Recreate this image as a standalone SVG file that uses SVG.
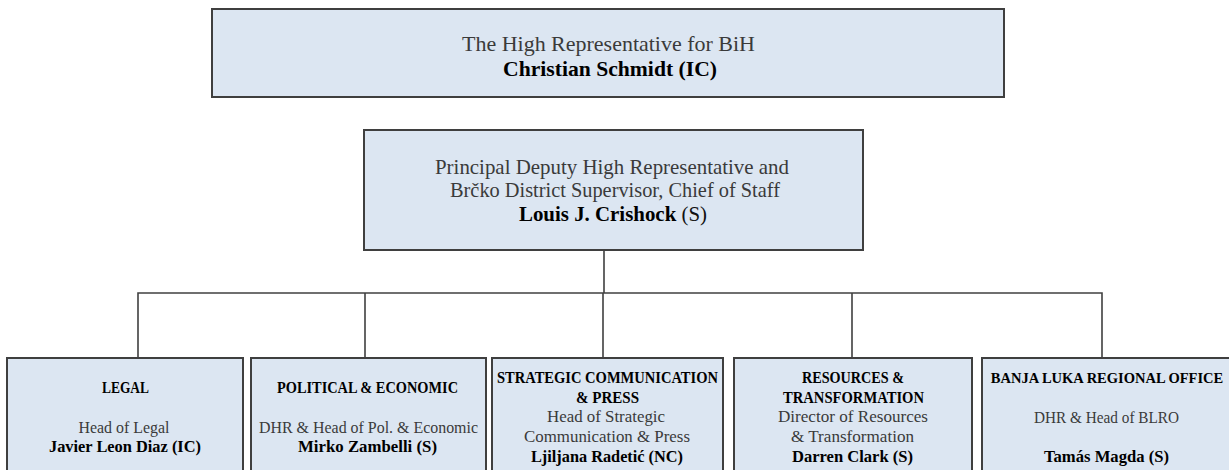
<svg xmlns="http://www.w3.org/2000/svg" width="1229" height="470" viewBox="0 0 1229 470">
<style>
.box{fill:#dce6f2;stroke:#3f3f3f;stroke-width:2}
.conn{fill:none;stroke:#404040;stroke-width:1.6}
text{font-family:"Liberation Serif","Times New Roman",serif;text-anchor:middle}
.r{fill:#3a3a3a;font-weight:normal}
.b{fill:#000;font-weight:bold}
.t{font-size:22px}
.p{font-size:21px}
.s{font-size:17px}
</style>
<rect width="1229" height="470" fill="#fff"/>
<g id="connectors">
<path class="conn" d="M604 250 V293 M138 358 V293 H1102 V358 M365 293 V358 M603 293 V358 M852 293 V358"/>
</g>
<g id="high-rep">
<rect class="box" x="212" y="9" width="792" height="88"/>
<text class="r t" x="608.5" y="51" textLength="293" lengthAdjust="spacingAndGlyphs">The High Representative for BiH</text>
<text class="b t" x="610" y="76" textLength="214" lengthAdjust="spacingAndGlyphs">Christian Schmidt (IC)</text>
</g>
<g id="pdhr">
<rect class="box" x="364" y="130" width="499" height="120"/>
<text class="r p" x="612" y="174" textLength="354" lengthAdjust="spacingAndGlyphs">Principal Deputy High Representative and</text>
<text class="r p" x="615" y="197" textLength="330" lengthAdjust="spacingAndGlyphs">Brčko District Supervisor, Chief of Staff</text>
<text class="p" x="613" y="221" textLength="188" lengthAdjust="spacingAndGlyphs"><tspan class="b">Louis J. Crishock </tspan><tspan class="r" style="fill:#111">(S)</tspan></text>
</g>
<g id="legal">
<rect class="box" x="7" y="358" width="236" height="130"/>
<text class="b s" x="125.5" y="393" textLength="47" lengthAdjust="spacingAndGlyphs">LEGAL</text>
<text class="r s" x="124" y="433" textLength="91" lengthAdjust="spacingAndGlyphs">Head of Legal</text>
<text class="b s" x="125" y="452" textLength="152" lengthAdjust="spacingAndGlyphs">Javier Leon Diaz (IC)</text>
</g>
<g id="political">
<rect class="box" x="251" y="358" width="235" height="130"/>
<text class="b s" x="367.5" y="393" textLength="181" lengthAdjust="spacingAndGlyphs">POLITICAL &amp; ECONOMIC</text>
<text class="r s" x="368.5" y="433" textLength="219" lengthAdjust="spacingAndGlyphs">DHR &amp; Head of Pol. &amp; Economic</text>
<text class="b s" x="367.5" y="452" textLength="139" lengthAdjust="spacingAndGlyphs">Mirko Zambelli (S)</text>
</g>
<g id="stratcom">
<rect class="box" x="492" y="358" width="231" height="130"/>
<text class="b s" x="607.5" y="383" textLength="221" lengthAdjust="spacingAndGlyphs">STRATEGIC COMMUNICATION</text>
<text class="b s" x="607.5" y="403" textLength="63" lengthAdjust="spacingAndGlyphs">&amp; PRESS</text>
<text class="r s" x="606" y="422" textLength="118" lengthAdjust="spacingAndGlyphs">Head of Strategic</text>
<text class="r s" x="607" y="442" textLength="166" lengthAdjust="spacingAndGlyphs">Communication &amp; Press</text>
<text class="b s" x="607" y="462" textLength="152" lengthAdjust="spacingAndGlyphs">Ljiljana Radetić (NC)</text>
</g>
<g id="resources">
<rect class="box" x="734" y="358" width="238" height="130"/>
<text class="b s" x="853" y="383" textLength="102" lengthAdjust="spacingAndGlyphs">RESOURCES &amp;</text>
<text class="b s" x="853.5" y="403" textLength="141" lengthAdjust="spacingAndGlyphs">TRANSFORMATION</text>
<text class="r s" x="853" y="422" textLength="150" lengthAdjust="spacingAndGlyphs">Director of Resources</text>
<text class="r s" x="852.5" y="442" textLength="123" lengthAdjust="spacingAndGlyphs">&amp; Transformation</text>
<text class="b s" x="852.5" y="462" textLength="121" lengthAdjust="spacingAndGlyphs">Darren Clark (S)</text>
</g>
<g id="banja-luka">
<rect class="box" x="982" y="358" width="252" height="130"/>
<text class="b" style="font-size:14.5px" x="1107" y="383">BANJA LUKA REGIONAL OFFICE</text>
<text class="r s" x="1106.5" y="423" textLength="145" lengthAdjust="spacingAndGlyphs">DHR &amp; Head of BLRO</text>
<text class="b s" x="1106.5" y="462" textLength="125" lengthAdjust="spacingAndGlyphs">Tamás Magda (S)</text>
</g>
</svg>
